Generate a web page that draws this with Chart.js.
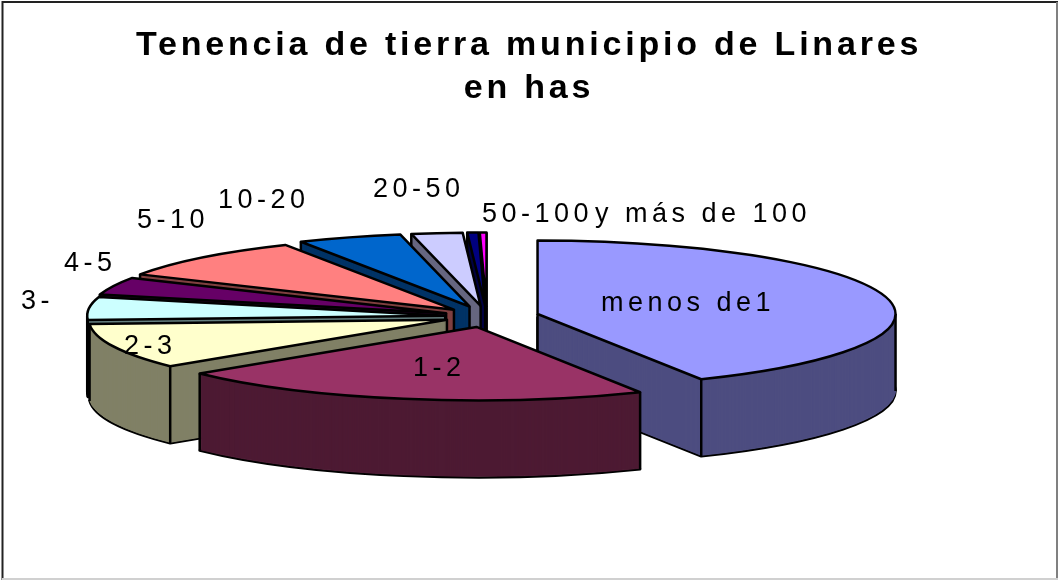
<!DOCTYPE html>
<html lang="es">
<head>
  <meta charset="UTF-8">
  <title>Tenencia de tierra municipio de Linares</title>
  <style>
    html, body { margin: 0; padding: 0; background: #fff; }
    #chart { display: block; }
  </style>
</head>
<body>
  <canvas id="chart" width="1058" height="580"></canvas>
  <script src="https://cdn.jsdelivr.net/npm/chart.js"></script>
  <script>
    const titleLines = ['Tenencia de tierra municipio de Linares', 'en has'];
    const categories = ['menos de1', '1-2', '2-3', '3-', '4-5', '5-10', '10-20', '20-50', '50-100', 'y más de 100'];
    const values     = [42.4, 21.6, 10.0, 5.0, 3.9, 9.2, 4.7, 2.3, 0.5, 0.3];
    const topColors  = ['#9999ff', '#993366', '#ffffcc', '#ccffff', '#660066', '#ff8080', '#0066cc', '#ccccff', '#000080', '#ff00ff'];
    const sideColors = ['#4d4d80', '#4d1a33', '#808066', '#668080', '#330033', '#804040', '#003366', '#666680', '#000040', '#800080'];
    const explode    = [52, 52, 43, 42, 44, 47, 52, 52, 52, 52];

    // where the label text starts (left x, baseline y)
    const labelAt = [[601, 311], [413, 376], [124, 354], [21, 309], [64, 271], [137, 228], [218, 208], [373, 197], [482, 222], [595, 222]];

    const SQUASH = 0.205, DEPTH = 76, SHIFT_X = -42;

    function sector(arc, z) {
      const mid = (arc.startAngle + arc.endAngle) / 2, off = arc.options.offset;
      const x = arc.x + SHIFT_X + Math.cos(mid) * off;
      const y = arc.y + Math.sin(mid) * off * SQUASH + z;
      const p = new Path2D();
      p.moveTo(x, y);
      p.ellipse(x, y, arc.outerRadius, arc.outerRadius * SQUASH, 0, arc.startAngle, arc.endAngle);
      p.closePath();
      return { path: p, x, y };
    }

    // vertical edges of one slice, skipped where the top face hides them
    function edges(ctx, arc, top) {
      const r = arc.outerRadius;
      const angles = [arc.startAngle, arc.endAngle];
      [0, Math.PI, 2 * Math.PI].forEach(a => { if (a > arc.startAngle && a < arc.endAngle) angles.push(a); });
      const pts = angles.map(a => [top.x + Math.cos(a) * r, top.y + Math.sin(a) * r * SQUASH]);
      pts.push([top.x, top.y]);
      pts.forEach(([x, y]) => {
        if (ctx.isPointInPath(top.path, x, y + 3)) return;
        ctx.beginPath();
        ctx.moveTo(x, y);
        ctx.lineTo(x, y + DEPTH + 1);
        ctx.stroke();
      });
    }

    const pie3d = {
      id: 'pie3d',
      beforeDraw(chart) {
        chart.ctx.letterSpacing = '3.8px';
      },
      beforeDatasetsDraw(chart) {
        const ctx = chart.ctx;
        const arcs = chart.getDatasetMeta(0).data;
        const order = arcs.map((a, i) => i).sort((a, b) =>
          Math.sin((arcs[a].startAngle + arcs[a].endAngle) / 2) - Math.sin((arcs[b].startAngle + arcs[b].endAngle) / 2));
        ctx.save();
        ctx.lineJoin = 'round';
        order.forEach(i => {
          const arc = arcs[i];
          ctx.strokeStyle = '#000';
          ctx.lineWidth = 2.5;
          ctx.stroke(sector(arc, DEPTH + 1).path);
          ctx.fillStyle = sideColors[i];
          ctx.strokeStyle = sideColors[i];
          ctx.lineWidth = 1;
          for (let z = DEPTH; z > 0; z--) {
            const layer = sector(arc, z).path;
            ctx.fill(layer);
            ctx.stroke(layer);
          }
          const top = sector(arc, 0);
          ctx.strokeStyle = '#000';
          ctx.lineWidth = 2.5;
          edges(ctx, arc, top);
          ctx.fillStyle = topColors[i];
          ctx.fill(top.path);
          ctx.stroke(top.path);
        });
        ctx.restore();
        return false;
      },
      afterDraw(chart) {
        const ctx = chart.ctx;
        ctx.save();
        ctx.letterSpacing = '4.5px';
        ctx.font = '27px "Liberation Sans", Arial, sans-serif';
        ctx.fillStyle = '#000';
        ctx.textAlign = 'left';
        ctx.textBaseline = 'alphabetic';
        categories.forEach((c, i) => ctx.fillText(c, labelAt[i][0], labelAt[i][1]));
        ctx.letterSpacing = '0px';
        // frame of the chart area
        ctx.strokeStyle = '#222';
        ctx.lineWidth = 2;
        ctx.beginPath();
        ctx.moveTo(2.5, 580); ctx.lineTo(2.5, 2); ctx.lineTo(1058, 2);
        ctx.stroke();
        ctx.strokeStyle = '#808080';
        ctx.beginPath(); ctx.moveTo(1057, 2); ctx.lineTo(1057, 580); ctx.stroke();
        ctx.strokeStyle = '#d0d0d0';
        ctx.beginPath(); ctx.moveTo(2, 579); ctx.lineTo(1058, 579); ctx.stroke();
        ctx.restore();
      }
    };

    new Chart(document.getElementById('chart'), {
      type: 'pie',
      plugins: [pie3d],
      data: {
        labels: categories,
        datasets: [{ data: values, backgroundColor: topColors, offset: explode, borderWidth: 0 }]
      },
      options: {
        responsive: false,
        animation: false,
        radius: 358,
        layout: { padding: { left: 0, right: 0, top: 24, bottom: 57 } },
        plugins: {
          legend: { display: false },
          tooltip: { enabled: false },
          title: {
            display: true,
            text: titleLines,
            color: '#000',
            font: { family: '"Liberation Sans", Arial, sans-serif', size: 34, weight: 'bold', lineHeight: 1.265 },
            padding: { top: 0, bottom: 0 }
          }
        }
      }
    });
  </script>
</body>
</html>
